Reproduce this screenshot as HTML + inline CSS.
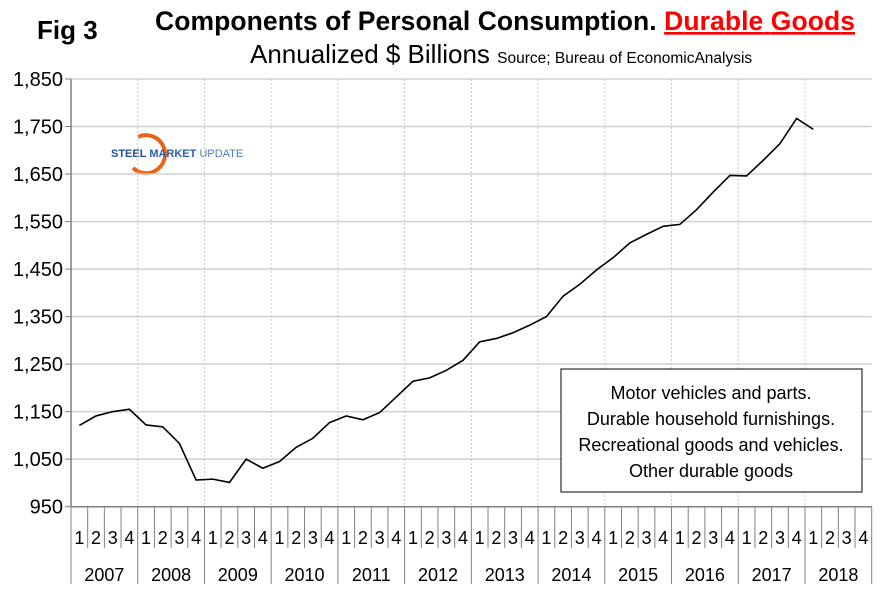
<!DOCTYPE html>
<html><head><meta charset="utf-8"><style>
body{margin:0;background:#fff;font-family:"Liberation Sans",Arial,sans-serif}
svg text{font-family:"Liberation Sans",Arial,sans-serif}
</style></head><body>
<svg id="c" width="880" height="592" xmlns="http://www.w3.org/2000/svg">
<text x="37" y="39" font-size="26" font-weight="bold">Fig 3</text>
<text x="155" y="30" font-size="26.5" font-weight="bold" textLength="700">Components of Personal Consumption. <tspan fill="#ff0000" text-decoration="underline">Durable Goods</tspan></text>
<text x="250" y="63" font-size="26">Annualized $ Billions <tspan font-size="15.5">Source; Bureau of EconomicAnalysis</tspan></text>
<g>
<path d="M138 137 A19 19 0 1 1 133 168" fill="none" stroke="#e8641c" stroke-width="4"/>
<text x="111" y="157" font-size="11" font-weight="bold" fill="#1f4e96">STEEL <tspan font-weight="bold" fill="#2a5ea8">MARKET</tspan> <tspan font-weight="normal" fill="#4a7cc0">UPDATE</tspan></text>
</g>
<g id="grid"></g><g id="axes"></g><g id="series"></g>
<g>
<rect x="561" y="369" width="301" height="123" fill="#fff" stroke="#000" stroke-width="1"/>
<text x="711" y="399" font-size="18" text-anchor="middle">Motor vehicles and parts.</text>
<text x="711" y="425" font-size="18" text-anchor="middle">Durable household furnishings.</text>
<text x="711" y="451" font-size="18" text-anchor="middle">Recreational goods and vehicles.</text>
<text x="711" y="477" font-size="18" text-anchor="middle">Other durable goods</text>
</g>
</svg>
<script>
const years=["2007","2008","2009","2010","2011","2012","2013","2014","2015","2016","2017","2018"];
const quarters=["1","2","3","4"];
const yTicks=[950,1050,1150,1250,1350,1450,1550,1650,1750,1850];
const values=[1121,1141,1150,1155,1122,1118,1083,1006,1008,1001,1050,1031,1045,1075,1094,1127,1141,1133,1148,1181,1214,1221,1237,1258,1297,1304,1316,1332,1350,1393,1418,1448,1474,1505,1523,1540,1544,1575,1612,1647,1646,1679,1714,1767,1744];
const L=71,R=871.7,T=79,B=506.7,ymin=950,ymax=1850;
const NS="http://www.w3.org/2000/svg";
const qw=(R-L)/(years.length*4);
function xq(i){return L+(i+0.5)*qw;}
function y(v){return B-(v-ymin)/(ymax-ymin)*(B-T);}
function mk(t,a,p){const e=document.createElementNS(NS,t);for(const k in a)e.setAttribute(k,a[k]);p.appendChild(e);return e;}
const g=document.getElementById('grid'),ax=document.getElementById('axes'),s=document.getElementById('series');
yTicks.forEach(v=>{
 const l=mk('line',{x1:L,x2:R,y1:y(v),y2:y(v),stroke:'#d0d0d0','stroke-width':1.5},g);
 
 
 mk('line',{x1:L-6,x2:L,y1:y(v),y2:y(v),stroke:'#808080'},ax);
 const t=mk('text',{x:63,y:y(v)+7,'font-size':20,'text-anchor':'end'},ax);
 t.textContent=v.toLocaleString('en-US');
 
 
});
years.forEach((yr,i)=>{
 const x0=L+i*4*qw;
 if(i>0){const l=mk('line',{x1:x0,x2:x0,y1:T,y2:B,stroke:'#c8c8c8','stroke-dasharray':'2,2'},g);
 
 }
 mk('line',{x1:x0,x2:x0,y1:B,y2:584,stroke:'#808080'},ax);
 quarters.forEach((q,j)=>{
  const xx=x0+j*qw;
  if(j>0)mk('line',{x1:xx,x2:xx,y1:B,y2:548,stroke:'#808080'},ax);
  const t=mk('text',{x:xx+qw/2,y:544,'font-size':18,'text-anchor':'middle'},ax);
  t.textContent=q;
  
  
 });
 const t=mk('text',{x:x0+2*qw,y:581,'font-size':18,'text-anchor':'middle'},ax);
 t.textContent=yr;
 
 
});
mk('line',{x1:R,x2:R,y1:B,y2:584,stroke:'#808080'},ax);
mk('line',{x1:L,x2:L,y1:T,y2:B,stroke:'#808080','stroke-width':1.5},ax);
mk('line',{x1:L,x2:R,y1:B,y2:B,stroke:'#808080','stroke-width':1.5},ax);
const p=mk('polyline',{points:values.map((v,i)=>xq(i)+','+y(v)).join(' '),fill:'none',stroke:'#000','stroke-width':1.6},s);


</script>
</body></html>
